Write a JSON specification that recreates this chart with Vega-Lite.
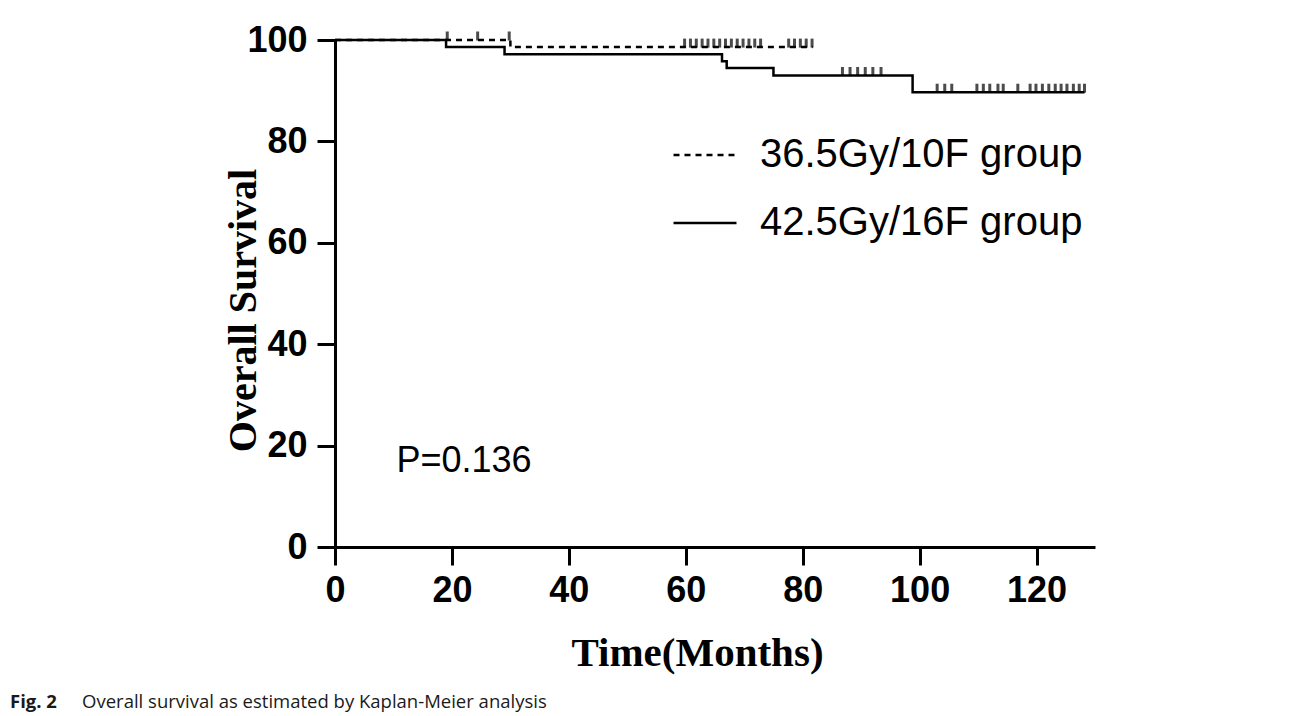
{
  "$schema": "https://vega.github.io/schema/vega-lite/v6.json",
  "width": 760,
  "height": 507,
  "autosize": "none",
  "padding": {"left": 335, "top": 40, "right": 195, "bottom": 169},
  "background": "white",
  "config": {"view": {"stroke": null}},
  "title": {
    "text": "Fig. 2",
    "subtitle": "\u200b\u00a0\u00a0\u00a0\u00a0\u00a0\u00a0\u00a0\u00a0\u00a0\u00a0\u00a0\u00a0\u00a0\u00a0\u00a0Overall survival as estimated by Kaplan-Meier analysis",
    "orient": "bottom",
    "anchor": "start",
    "frame": "group",
    "dx": -325,
    "offset": 20,
    "font": "Open Sans",
    "fontSize": 18.5,
    "fontWeight": "bold",
    "color": "#1a1a1a",
    "subtitleFont": "Open Sans",
    "subtitleFontSize": 18.5,
    "subtitleColor": "#1a1a1a",
    "subtitlePadding": -18.5
  },
  "datasets": {
    "curves": [
      {"group": "36.5Gy/10F group", "t": 0, "surv": 100},
      {"group": "36.5Gy/10F group", "t": 30, "surv": 98.6},
      {"group": "36.5Gy/10F group", "t": 81.7, "surv": 98.6},
      {"group": "42.5Gy/16F group", "t": 0, "surv": 100},
      {"group": "42.5Gy/16F group", "t": 19, "surv": 98.6},
      {"group": "42.5Gy/16F group", "t": 29, "surv": 97.2},
      {"group": "42.5Gy/16F group", "t": 66.2, "surv": 95.8},
      {"group": "42.5Gy/16F group", "t": 67, "surv": 94.5},
      {"group": "42.5Gy/16F group", "t": 75, "surv": 93.0},
      {"group": "42.5Gy/16F group", "t": 98.8, "surv": 89.7},
      {"group": "42.5Gy/16F group", "t": 128.2, "surv": 89.7}
    ],
    "censored": [
      {"group": "36.5Gy/10F group", "t": 19.2, "surv": 100},
      {"group": "36.5Gy/10F group", "t": 24.4, "surv": 100},
      {"group": "36.5Gy/10F group", "t": 29.8, "surv": 100},
      {"group": "36.5Gy/10F group", "t": 59.8, "surv": 98.6},
      {"group": "36.5Gy/10F group", "t": 60.8, "surv": 98.6},
      {"group": "36.5Gy/10F group", "t": 61.8, "surv": 98.6},
      {"group": "36.5Gy/10F group", "t": 62.8, "surv": 98.6},
      {"group": "36.5Gy/10F group", "t": 63.8, "surv": 98.6},
      {"group": "36.5Gy/10F group", "t": 64.8, "surv": 98.6},
      {"group": "36.5Gy/10F group", "t": 65.8, "surv": 98.6},
      {"group": "36.5Gy/10F group", "t": 66.8, "surv": 98.6},
      {"group": "36.5Gy/10F group", "t": 67.8, "surv": 98.6},
      {"group": "36.5Gy/10F group", "t": 68.8, "surv": 98.6},
      {"group": "36.5Gy/10F group", "t": 69.8, "surv": 98.6},
      {"group": "36.5Gy/10F group", "t": 70.8, "surv": 98.6},
      {"group": "36.5Gy/10F group", "t": 71.8, "surv": 98.6},
      {"group": "36.5Gy/10F group", "t": 72.8, "surv": 98.6},
      {"group": "36.5Gy/10F group", "t": 77.6, "surv": 98.6},
      {"group": "36.5Gy/10F group", "t": 78.6, "surv": 98.6},
      {"group": "36.5Gy/10F group", "t": 79.6, "surv": 98.6},
      {"group": "36.5Gy/10F group", "t": 80.6, "surv": 98.6},
      {"group": "36.5Gy/10F group", "t": 81.6, "surv": 98.6},
      {"group": "42.5Gy/16F group", "t": 86.8, "surv": 93.0},
      {"group": "42.5Gy/16F group", "t": 88.1, "surv": 93.0},
      {"group": "42.5Gy/16F group", "t": 89.4, "surv": 93.0},
      {"group": "42.5Gy/16F group", "t": 90.7, "surv": 93.0},
      {"group": "42.5Gy/16F group", "t": 92.0, "surv": 93.0},
      {"group": "42.5Gy/16F group", "t": 93.4, "surv": 93.0},
      {"group": "42.5Gy/16F group", "t": 103.0, "surv": 89.7},
      {"group": "42.5Gy/16F group", "t": 104.3, "surv": 89.7},
      {"group": "42.5Gy/16F group", "t": 105.5, "surv": 89.7},
      {"group": "42.5Gy/16F group", "t": 109.8, "surv": 89.7},
      {"group": "42.5Gy/16F group", "t": 110.9, "surv": 89.7},
      {"group": "42.5Gy/16F group", "t": 112.0, "surv": 89.7},
      {"group": "42.5Gy/16F group", "t": 113.4, "surv": 89.7},
      {"group": "42.5Gy/16F group", "t": 114.3, "surv": 89.7},
      {"group": "42.5Gy/16F group", "t": 116.8, "surv": 89.7},
      {"group": "42.5Gy/16F group", "t": 118.9, "surv": 89.7},
      {"group": "42.5Gy/16F group", "t": 119.9, "surv": 89.7},
      {"group": "42.5Gy/16F group", "t": 121.0, "surv": 89.7},
      {"group": "42.5Gy/16F group", "t": 122.1, "surv": 89.7},
      {"group": "42.5Gy/16F group", "t": 123.2, "surv": 89.7},
      {"group": "42.5Gy/16F group", "t": 124.2, "surv": 89.7},
      {"group": "42.5Gy/16F group", "t": 125.2, "surv": 89.7},
      {"group": "42.5Gy/16F group", "t": 126.3, "surv": 89.7},
      {"group": "42.5Gy/16F group", "t": 127.3, "surv": 89.7},
      {"group": "42.5Gy/16F group", "t": 128.2, "surv": 89.7}
    ],
    "notes": [
      {"label": "P=0.136", "t": 10.5, "surv": 17}
    ]
  },
  "layer": [
    {
      "data": {"name": "curves"},
      "mark": {"type": "line", "interpolate": "step-after", "color": "black", "strokeWidth": 2.5},
      "encoding": {
        "x": {
          "field": "t", "type": "quantitative",
          "scale": {"domain": [0, 130], "nice": false, "zero": false},
          "axis": {
            "values": [0, 20, 40, 60, 80, 100, 120],
            "grid": false,
            "labelFont": "Liberation Sans", "labelFontWeight": "bold", "labelFontSize": 36, "labelColor": "black",
            "labelPadding": 8, "labelFlush": false,
            "domainColor": "black", "domainWidth": 3,
            "tickColor": "black", "tickWidth": 3, "tickSize": 18,
            "title": "Time(Months)",
            "titleFont": "Liberation Serif", "titleFontSize": 41, "titleFontWeight": "bold", "titleColor": "black",
            "titleX": 362, "titleY": 106, "titleAlign": "center", "titleBaseline": "middle"
          }
        },
        "y": {
          "field": "surv", "type": "quantitative",
          "scale": {"domain": [0, 100], "nice": false},
          "axis": {
            "values": [0, 20, 40, 60, 80, 100],
            "grid": false,
            "labelFont": "Liberation Sans", "labelFontWeight": "bold", "labelFontSize": 36, "labelColor": "black",
            "labelPadding": 10, "labelFlush": false,
            "domainColor": "black", "domainWidth": 3,
            "tickColor": "black", "tickWidth": 3, "tickSize": 18,
            "title": "Overall Survival",
            "titleFont": "Liberation Serif", "titleFontSize": 40, "titleFontWeight": "bold", "titleColor": "black",
            "titleX": -92, "titleY": 270, "titleAlign": "center", "titleBaseline": "middle", "titleAngle": -90
          }
        },
        "strokeDash": {
          "field": "group", "type": "nominal",
          "scale": {"domain": ["36.5Gy/10F group", "42.5Gy/16F group"], "range": [[6, 5], [1, 0]]},
          "legend": {
            "orient": "none", "legendX": 337, "legendY": 82,
            "title": null,
            "symbolType": "stroke", "symbolSize": 3969, "symbolStrokeWidth": 2.5, "symbolStrokeColor": "black",
            "labelFont": "Liberation Sans", "labelFontSize": 40, "labelColor": "black",
            "labelOffset": 22, "rowPadding": 15, "padding": 0, "labelLimit": 0
          }
        }
      }
    },
    {
      "data": {"name": "censored"},
      "mark": {"type": "tick", "orient": "vertical", "size": 9, "thickness": 3, "yOffset": -4, "color": "black"},
      "encoding": {
        "x": {"field": "t", "type": "quantitative"},
        "y": {"field": "surv", "type": "quantitative"}
      }
    },
    {
      "data": {"name": "notes"},
      "mark": {"type": "text", "align": "left", "baseline": "middle", "font": "Liberation Sans", "fontSize": 36, "color": "black"},
      "encoding": {
        "x": {"field": "t", "type": "quantitative"},
        "y": {"field": "surv", "type": "quantitative"},
        "text": {"field": "label", "type": "nominal"}
      }
    }
  ]
}
